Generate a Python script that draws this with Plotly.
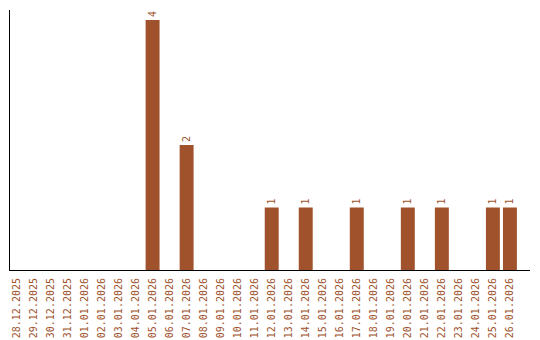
import plotly.graph_objects as go

dates = ["28.12.2025", "29.12.2025", "30.12.2025", "31.12.2025", "01.01.2026", "02.01.2026",
         "03.01.2026", "04.01.2026", "05.01.2026", "06.01.2026", "07.01.2026", "08.01.2026",
         "09.01.2026", "10.01.2026", "11.01.2026", "12.01.2026", "13.01.2026", "14.01.2026",
         "15.01.2026", "16.01.2026", "17.01.2026", "18.01.2026", "19.01.2026", "20.01.2026",
         "21.01.2026", "22.01.2026", "23.01.2026", "24.01.2026", "25.01.2026", "26.01.2026"]
counts = [0, 0, 0, 0, 0, 0, 0, 0, 4, 0, 2, 0, 0, 0, 0, 1, 0, 1, 0, 0, 1, 0, 0, 1, 0, 1, 0, 0, 1, 1]

labels = [str(v) if v else "" for v in counts]
color = "#A0522D"
font_family = "DejaVu Sans Mono"

fig = go.Figure(go.Bar(
    x=dates, y=counts, text=labels, textposition="outside", textangle=-90,
    textfont=dict(family=font_family, size=10, color=color),
    marker=dict(color=color, line=dict(width=0)),
    cliponaxis=False, constraintext="none",
))

fig.update_layout(
    width=540, height=340,
    margin=dict(l=10, r=10, t=10, b=70, autoexpand=False),
    paper_bgcolor="white", plot_bgcolor="white",
    showlegend=False, bargap=0.18,
    font=dict(family=font_family, size=10, color=color),
)
fig.update_xaxes(
    type="category", range=[-0.38, 30.18], tickangle=-90, automargin=False,
    showline=True, linecolor="black", linewidth=1, showgrid=False,
    ticks="", ticklabelstandoff=3,
    tickfont=dict(family=font_family, size=10, color=color),
)
fig.update_yaxes(
    range=[0, 4.16], showline=True, linecolor="black", linewidth=1, automargin=False,
    showgrid=False, showticklabels=False, ticks="", zeroline=False,
)

fig.write_html("out.html")
